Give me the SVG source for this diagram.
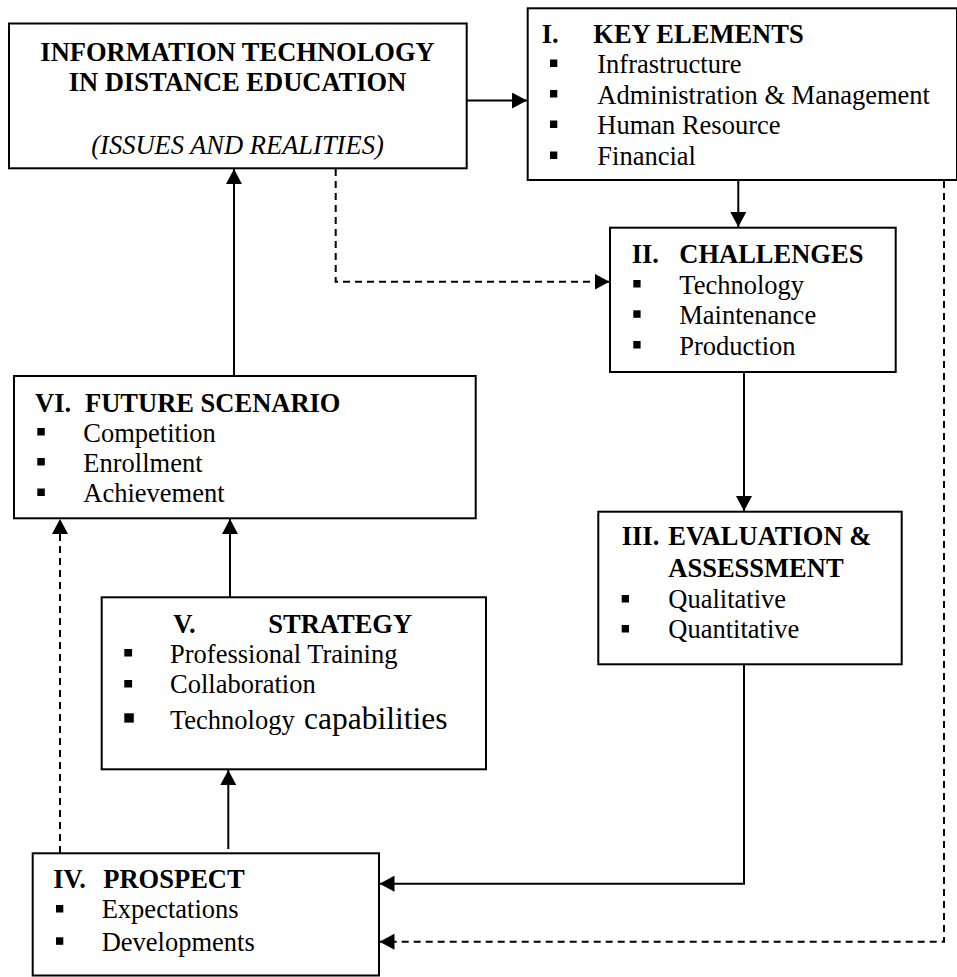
<svg xmlns="http://www.w3.org/2000/svg" width="957" height="977" viewBox="0 0 957 977">
<style>
.box{fill:#fff;stroke:#000;stroke-width:2}
.t{font-family:"Liberation Serif","Times New Roman",serif;font-size:26.5px;fill:#000}
.b{font-weight:bold}
.i{font-style:italic}
.c{text-anchor:middle}
.bul{fill:#000}
.con{fill:none;stroke:#000;stroke-width:2}
.dash{stroke-dasharray:7 5}
</style>
<defs>
<marker id="ah" viewBox="0 0 15 16" refX="15" refY="8" markerWidth="15" markerHeight="16" markerUnits="userSpaceOnUse" orient="auto">
<path d="M0,0 L15,8 L0,16 z" fill="#000"/>
</marker>
</defs>
<rect width="957" height="977" fill="#fff"/>
<g id="connectors">
<path class="con" d="M467,100.5 H527" marker-end="url(#ah)"/>
<path class="con" d="M738.3,181 V227" marker-end="url(#ah)"/>
<path class="con dash" d="M335.7,169 V281.7 H609.5" marker-end="url(#ah)"/>
<path class="con" d="M744,373 V511" marker-end="url(#ah)"/>
<path class="con" d="M744,665 V883.7 H379.5" marker-end="url(#ah)"/>
<path class="con dash" d="M944,181 V941.7 H379.5" marker-end="url(#ah)"/>
<path class="con" d="M228.3,849 V770" marker-end="url(#ah)"/>
<path class="con" d="M230,597 V519" marker-end="url(#ah)"/>
<path class="con dash" d="M60,853 V519" marker-end="url(#ah)"/>
<path class="con" d="M234,376 V169" marker-end="url(#ah)"/>
</g>
<g id="node-main">
<rect class="box" x="9" y="23.5" width="457.7" height="144.8"/>
<text class="t b c" x="237.5" y="61">INFORMATION TECHNOLOGY</text>
<text class="t b c" x="237.5" y="90.6">IN DISTANCE EDUCATION</text>
<text class="t i c" x="237.5" y="153.5">(ISSUES AND REALITIES)</text>
</g>
<g id="node-key-elements">
<rect class="box" x="527.7" y="8.3" width="429.3" height="171.7"/>
<text class="t b" x="541.7" y="43.3">I.</text>
<text class="t b" x="593.3" y="43.3">KEY ELEMENTS</text>
<rect class="bul" x="550" y="59.5" width="7.3" height="7.5"/>
<rect class="bul" x="550" y="90" width="7.3" height="7.5"/>
<rect class="bul" x="550" y="120.5" width="7.3" height="7.5"/>
<rect class="bul" x="550" y="151.5" width="7.3" height="7.5"/>
<text class="t" x="597.3" y="73.3">Infrastructure</text>
<text class="t" x="597.3" y="103.8">Administration &amp; Management</text>
<text class="t" x="597.3" y="134.3">Human Resource</text>
<text class="t" x="597.3" y="165.3">Financial</text>
</g>
<g id="node-challenges">
<rect class="box" x="610" y="227.7" width="285.7" height="144.3"/>
<text class="t b" x="631.7" y="263.3">II.</text>
<text class="t b" x="679.3" y="263.3">CHALLENGES</text>
<rect class="bul" x="633.3" y="280" width="7.3" height="7.5"/>
<rect class="bul" x="633.3" y="310.3" width="7.3" height="7.5"/>
<rect class="bul" x="633.3" y="341" width="7.3" height="7.5"/>
<text class="t" x="679.3" y="293.5">Technology</text>
<text class="t" x="679.3" y="324">Maintenance</text>
<text class="t" x="679.3" y="354.5">Production</text>
</g>
<g id="node-evaluation">
<rect class="box" x="598.3" y="511.7" width="303.4" height="152.6"/>
<text class="t b" x="621.7" y="545">III.</text>
<text class="t b" x="668.3" y="545">EVALUATION &amp;</text>
<text class="t b" x="668.3" y="576.7">ASSESSMENT</text>
<rect class="bul" x="621.7" y="595" width="7.3" height="7.5"/>
<rect class="bul" x="621.7" y="625" width="7.3" height="7.5"/>
<text class="t" x="668.3" y="608.3">Qualitative</text>
<text class="t" x="668.3" y="638.3">Quantitative</text>
</g>
<g id="node-future-scenario">
<rect class="box" x="14" y="376" width="461.7" height="142.3"/>
<text class="t b" x="35" y="411.7">VI.</text>
<text class="t b" x="85" y="411.7">FUTURE SCENARIO</text>
<rect class="bul" x="37.3" y="428" width="7.5" height="7.5"/>
<rect class="bul" x="37.3" y="458" width="7.5" height="7.5"/>
<rect class="bul" x="37.3" y="488.5" width="7.5" height="7.5"/>
<text class="t" x="83.3" y="441.7">Competition</text>
<text class="t" x="83.3" y="471.7">Enrollment</text>
<text class="t" x="83.3" y="502.3">Achievement</text>
</g>
<g id="node-strategy">
<rect class="box" x="101.7" y="597.3" width="384.3" height="172"/>
<text class="t b" x="173.3" y="633.3">V.</text>
<text class="t b" x="268.3" y="633.3">STRATEGY</text>
<rect class="bul" x="124.3" y="649" width="7.8" height="7.5"/>
<rect class="bul" x="124.3" y="680" width="7.8" height="7.5"/>
<rect class="bul" x="124.3" y="713.3" width="9.5" height="9.3"/>
<text class="t" x="170" y="662.7">Professional Training</text>
<text class="t" x="170" y="693.3">Collaboration</text>
<text class="t" x="170" y="729.3">Technology</text>
<text class="t" x="304" y="729.3" style="font-size:31.5px">capabilities</text>
</g>
<g id="node-prospect">
<rect class="box" x="32.7" y="853.3" width="346.3" height="122.2"/>
<text class="t b" x="53.3" y="888.3">IV.</text>
<text class="t b" x="103.3" y="888.3">PROSPECT</text>
<rect class="bul" x="56" y="905" width="7.3" height="7.5"/>
<rect class="bul" x="56" y="937.3" width="7.3" height="7.5"/>
<text class="t" x="101.7" y="918.3">Expectations</text>
<text class="t" x="101.7" y="950.7">Developments</text>
</g>
</svg>
